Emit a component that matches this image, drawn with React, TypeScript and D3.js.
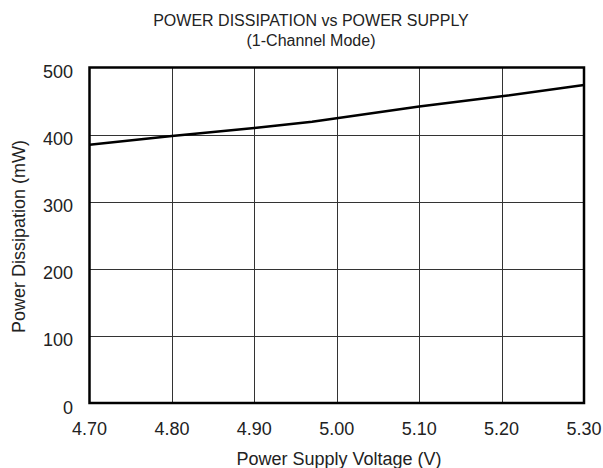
import React from "react";
import * as d3 from "d3";

const voltage = [4.7, 4.8, 4.9, 4.97, 5.1, 5.2, 5.3];
const power = [385, 398, 410, 419, 442, 457, 474];
const xTicks = [4.7, 4.8, 4.9, 5.0, 5.1, 5.2, 5.3];
const yTicks = [0, 100, 200, 300, 400, 500];

const W = 603, H = 468;
const L = 89.5, R = 584, T = 67.5, B = 403;
const font = "'Liberation Sans', Arial, sans-serif";

export default function App() {
  const x = d3.scaleLinear().domain([4.7, 5.3]).range([L, R]);
  const y = d3.scaleLinear().domain([0, 500]).range([B, T]);
  const line = d3.line<number>().x((_, i) => x(voltage[i])).y((d) => y(d));
  return (
    <svg width={W} height={H} style={{ position: "absolute", left: 0, top: 0, background: "#fff" }} fontFamily={font} fill="#222">
      <text x={311} y={25.5} textAnchor="middle" fontSize={16}>POWER DISSIPATION vs POWER SUPPLY</text>
      <text x={311} y={46} textAnchor="middle" fontSize={16}>(1-Channel Mode)</text>
      {xTicks.slice(1, -1).map((t) => (
        <line key={"gx" + t} x1={Math.round(x(t)) + 0.5} x2={Math.round(x(t)) + 0.5} y1={T} y2={B} stroke="#333" strokeWidth={1} />
      ))}
      {yTicks.slice(1, -1).map((t) => (
        <line key={"gy" + t} x1={L} x2={R} y1={Math.round(y(t)) + 0.5} y2={Math.round(y(t)) + 0.5} stroke="#333" strokeWidth={1} />
      ))}
      <path d={line(power) || ""} fill="none" stroke="#000" strokeWidth={2.5} />
      <rect x={L} y={T} width={R - L} height={B - T} fill="none" stroke="#000" strokeWidth={2.5} />
      {xTicks.map((t) => (
        <text key={"xt" + t} x={x(t)} y={435} textAnchor="middle" fontSize={18}>{t.toFixed(2)}</text>
      ))}
      {yTicks.map((t) => (
        <text key={"yt" + t} x={73} y={y(t) + 10.5} textAnchor="end" fontSize={18}>{t}</text>
      ))}
      <text x={339} y={465} textAnchor="middle" fontSize={18}>Power Supply Voltage (V)</text>
      <text transform={`translate(25,236.5) rotate(-90)`} textAnchor="middle" fontSize={18}>Power Dissipation (mW)</text>
    </svg>
  );
}
